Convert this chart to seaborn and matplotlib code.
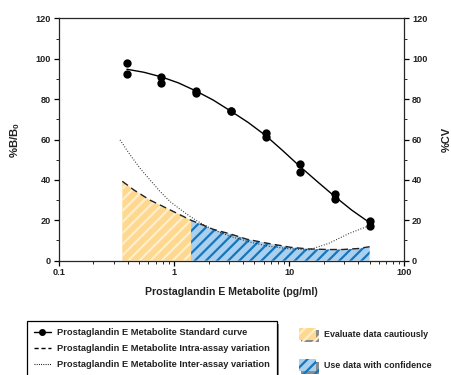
import numpy as np
import matplotlib
matplotlib.use("Agg")
import matplotlib.pyplot as plt
import matplotlib.patheffects as pe
import seaborn as sns
from matplotlib.lines import Line2D
from matplotlib.patches import Patch
from matplotlib.ticker import LogLocator, NullFormatter, FixedLocator

# ============================================================
# Data
# ============================================================

std_x = [0.391, 0.391, 0.781, 0.781, 1.56, 1.56, 3.13, 3.13,
         6.25, 6.25, 12.5, 12.5, 25, 25, 50, 50]
std_y = [98, 92.5, 91, 88, 84, 83, 74.3, 74,
         63, 61.4, 47.9, 44, 33, 30.5, 19.8, 17.3]

fit_x = [0.391, 0.55, 0.781, 1.1, 1.56, 2.2, 3.13, 4.4,
         6.25, 8.8, 12.5, 17.7, 25, 35, 50]
fit_y = [94.8, 93.3, 91, 88, 84, 79.5, 74, 68.5,
         62, 54.5, 46.5, 39, 31.7, 25, 18.8]

intra_x = [0.357, 0.45, 0.62, 0.93, 1.41, 2.2, 3.1, 4.3,
           6.9, 8.4, 10.3, 14.7, 22, 29, 40, 50]
intra_y = [39.3, 35, 30, 25.1, 20, 15.5, 13.2, 10.6,
           8.3, 7.5, 6.6, 5.8, 5.5, 5.5, 6.0, 6.9]

inter_x = [0.341, 0.418, 0.51, 0.62, 0.76, 0.93, 1.13, 1.39, 1.7,
           2.2, 3.1, 4.5, 6.5, 9.5, 14.8, 22, 33, 50]
inter_y = [59.8, 52.3, 45.7, 40, 34.2, 29.2, 25.5, 21.8, 18.7,
           15.3, 12, 9.3, 7.2, 6, 5.3, 8.5, 13.4, 17.4]

split_x = 1.41  # cautious / confident boundary

# ============================================================
# Style
# ============================================================

sns.set_style("ticks")
plt.rcParams["font.family"] = ["Liberation Sans", "DejaVu Sans"]
plt.rcParams["font.weight"] = "bold"
plt.rcParams["mathtext.fontset"] = "custom"
plt.rcParams["mathtext.rm"] = "Liberation Sans:bold"
plt.rcParams["mathtext.default"] = "rm"
plt.rcParams["hatch.linewidth"] = 1.6
plt.rcParams["axes.linewidth"] = 0.9

txt = "#222222"
yellow_face = "#fdd88e"
yellow_hatch = "#ffeecd"
blue_face = "#a9d0ee"
blue_hatch = "#1576bd"

fig = plt.figure(figsize=(4.51, 3.75), dpi=100)
ax = fig.add_axes([0.130, 0.305, 0.7665, 0.646])

# ============================================================
# Shaded regions under intra-assay CV
# ============================================================

ix = np.array(intra_x)
iy = np.array(intra_y)
m1 = ix <= split_x
m2 = ix >= split_x
ax.fill_between(ix[m1], 0, iy[m1], facecolor=yellow_face,
                edgecolor=yellow_hatch, hatch="///", linewidth=0)
ax.fill_between(ix[m2], 0, iy[m2], facecolor=blue_face,
                edgecolor=blue_hatch, hatch="///", linewidth=0)

# ============================================================
# Lines
# ============================================================

sns.lineplot(x=fit_x, y=fit_y, ax=ax, color="black", linewidth=1.0)
sns.scatterplot(x=std_x, y=std_y, ax=ax, color="black", s=36,
                edgecolor="black", linewidth=0, zorder=5)
sns.lineplot(x=intra_x, y=intra_y, ax=ax, color="#222222", linewidth=1.0)
ax.lines[-1].set_dashes([5, 3])
sns.lineplot(x=inter_x, y=inter_y, ax=ax, color="#222222", linewidth=0.8)
ax.lines[-1].set_dashes([0.8, 1.6])

# ============================================================
# Axes
# ============================================================

ax.set_xscale("log")
ax.set_xlim(0.1, 100)
ax.set_ylim(0, 120)
ax.xaxis.set_major_locator(FixedLocator([0.1, 1, 10, 100]))
ax.set_xticklabels(["0.1", "1", "10", "100"])
ax.xaxis.set_minor_locator(LogLocator(base=10, subs=np.arange(2, 10)))
ax.xaxis.set_minor_formatter(NullFormatter())
ax.set_yticks(np.arange(0, 121, 20))
ax.set_yticks(np.arange(10, 120, 20), minor=True)

ax.tick_params(which="major", length=3.5, width=0.9, labelsize=6.6,
               colors="black", labelcolor=txt, pad=2)
ax.tick_params(which="minor", length=2, width=0.7)
ax.tick_params(axis="y", which="both", left=True, right=True,
               labelright=True)
for s in ["top", "right"]:
    ax.spines[s].set_visible(True)

ax.set_xlabel("Prostaglandin E Metabolite (pg/ml)", fontsize=7.6,
              fontweight="bold", color=txt, labelpad=7)
ax.set_ylabel("%B/B$_0$", fontsize=8.2, fontweight="bold", color=txt,
              labelpad=10)
ax2 = ax.secondary_yaxis("right")
ax2.set_yticks([])
ax2.spines["right"].set_visible(False)
ax2.set_ylabel("%CV", fontsize=8, fontweight="bold", color=txt,
               labelpad=27)

# ============================================================
# Legends
# ============================================================

shadow = [pe.SimplePatchShadow(offset=(1.6, -1.6), shadow_rgbFace="0.55",
                               alpha=1), pe.Normal()]

line_handles = [
    Line2D([0], [0], color="black", lw=1.0, marker="o", markersize=4),
    Line2D([0], [0], color="black", lw=1.0, dashes=[3, 2]),
    Line2D([0], [0], color="black", lw=0.8, dashes=[0.8, 1.2]),
]
line_labels = [
    "Prostaglandin E Metabolite Standard curve",
    "Prostaglandin E Metabolite Intra-assay variation",
    "Prostaglandin E Metabolite Inter-assay variation",
]
leg1 = fig.legend(line_handles, line_labels, loc="upper left",
                  bbox_to_anchor=(0.059, 0.143), fontsize=6.7,
                  frameon=True, fancybox=False, framealpha=1,
                  facecolor="white", edgecolor="black",
                  handlelength=1.9, handletextpad=0.6, labelspacing=0.75,
                  borderpad=0.75, borderaxespad=0, labelcolor=txt)
leg1.get_frame().set_linewidth(0.9)
leg1.get_frame().set_path_effects(shadow)

patch_handles = [
    Patch(facecolor=yellow_face, edgecolor=yellow_hatch, hatch="///",
          linewidth=0),
    Patch(facecolor=blue_face, edgecolor=blue_hatch, hatch="///",
          linewidth=0),
]
patch_labels = ["Evaluate data cautiously", "Use data with confidence"]
leg2 = fig.legend(patch_handles, patch_labels, loc="upper left",
                  bbox_to_anchor=(0.654, 0.135), fontsize=6.4,
                  frameon=False, handlelength=2.0, handleheight=1.7,
                  handletextpad=0.9, labelspacing=2.2, borderaxespad=0,
                  labelcolor=txt)
for p in leg2.get_patches():
    p.set_path_effects(shadow)

fig.savefig("out.png", dpi=100)
